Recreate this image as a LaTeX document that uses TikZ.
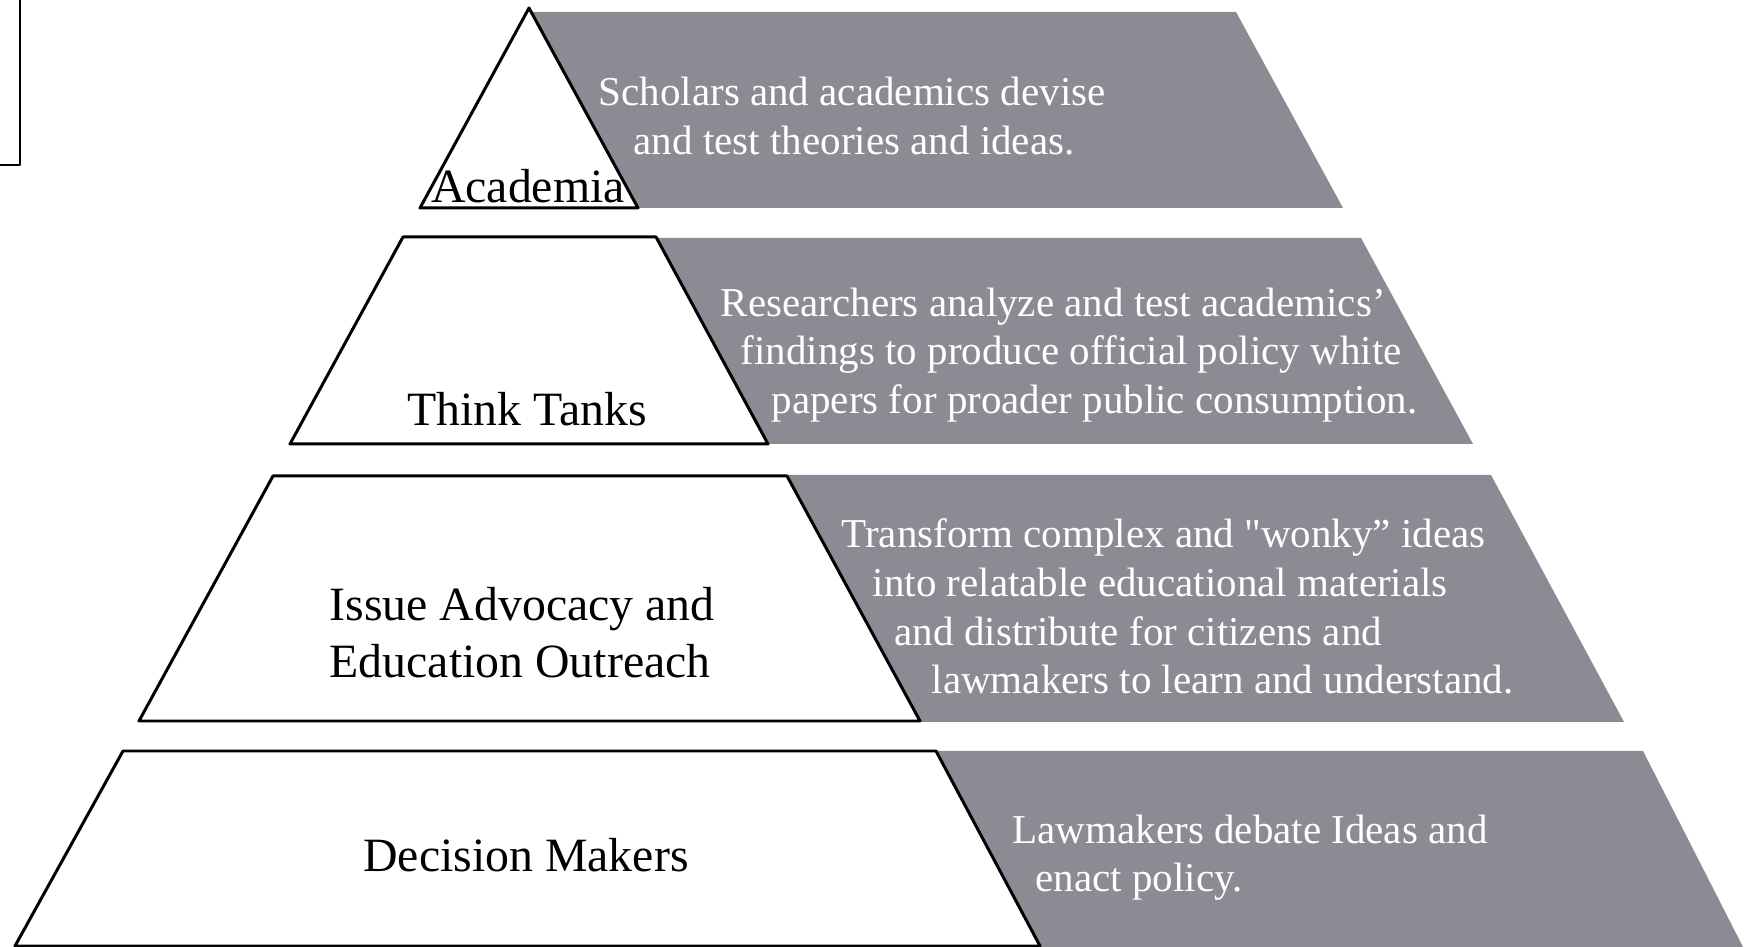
\documentclass[tikz,border=0pt]{standalone}
\usepackage{fontspec}
\setmainfont{Liberation Serif}
\newfontfamily\straightquote{Liberation Serif}
\definecolor{slate}{rgb}{0.541,0.545,0.576}
\tikzset{
    tier/.style = {draw=black, fill=white, line width=0.85pt},
    strip/.style = {fill=slate, draw=none},
    tiername/.style = {anchor=base, inner sep=0pt, font=\fontsize{13.6pt}{16.4pt}\selectfont},
    tiertext/.style = {anchor=base west, inner sep=0pt, align=left, text=white,
        font=\fontsize{11.67pt}{13.94pt}\selectfont}
}

\begin{document}
\begin{tikzpicture}[line cap=round,line join=round,x=1.0cm,y=1.0cm]
\useasboundingbox (0,0) rectangle (17.55,9.47);
\draw [line width=0.6pt] (0,7.82) -- (0.20,7.82) -- (0.20,9.47);
\fill [strip] (5.31,9.35) -- (12.36,9.35) -- (13.43,7.39) -- (6.38,7.39) -- cycle;
\fill [strip] (6.56,7.09) -- (13.61,7.09) -- (14.73,5.03) -- (7.68,5.03) -- cycle;
\fill [strip] (7.87,4.72) -- (14.91,4.72) -- (16.24,2.25) -- (9.20,2.25) -- cycle;
\fill [strip] (9.36,1.96) -- (16.43,1.96) -- (17.43,0) -- (10.40,0) -- cycle;
\draw [tier] (5.29,9.39) -- (6.38,7.39) -- (4.20,7.39) -- cycle;
\draw [tier] (4.03,7.10) -- (6.56,7.10) -- (7.68,5.03) -- (2.90,5.03) -- cycle;
\draw [tier] (2.73,4.71) -- (7.87,4.71) -- (9.20,2.26) -- (1.39,2.26) -- cycle;
\draw [tier] (1.23,1.96) -- (9.36,1.96) -- (10.40,0.01) -- (0.15,0.01) -- cycle;
\node [tiername] (academia) at (5.28,7.44) {Academia};
\node [tiername] (thinktanks) at (5.27,5.21) {Think Tanks};
\node [tiername, anchor=base west, align=left] (advocacy) at (3.29,2.69) {Issue Advocacy and\\Education Outreach};
\node [tiername] (decision) at (5.26,0.75) {Decision Makers};
\node [tiertext] (scholars) at (5.98,7.92) {Scholars and academics devise\\\hspace*{0.35cm}and test theories and ideas.};
\node [tiertext] (researchers) at (7.20,5.33) {Researchers analyze and test academics’\\\hspace*{0.20cm}findings to produce official policy white\\\hspace*{0.51cm}papers for proader public consumption.};
\node [tiertext] (transform) at (8.41,2.53) {Transform complex and {\straightquote"}wonky” ideas\\\hspace*{0.31cm}into relatable educational materials\\\hspace*{0.53cm}and distribute for citizens and\\\hspace*{0.90cm}lawmakers to learn and understand.};
\node [tiertext] (lawmakers) at (10.12,0.55) {Lawmakers debate Ideas and\\\hspace*{0.23cm}enact policy.};
\end{tikzpicture}
\end{document}
